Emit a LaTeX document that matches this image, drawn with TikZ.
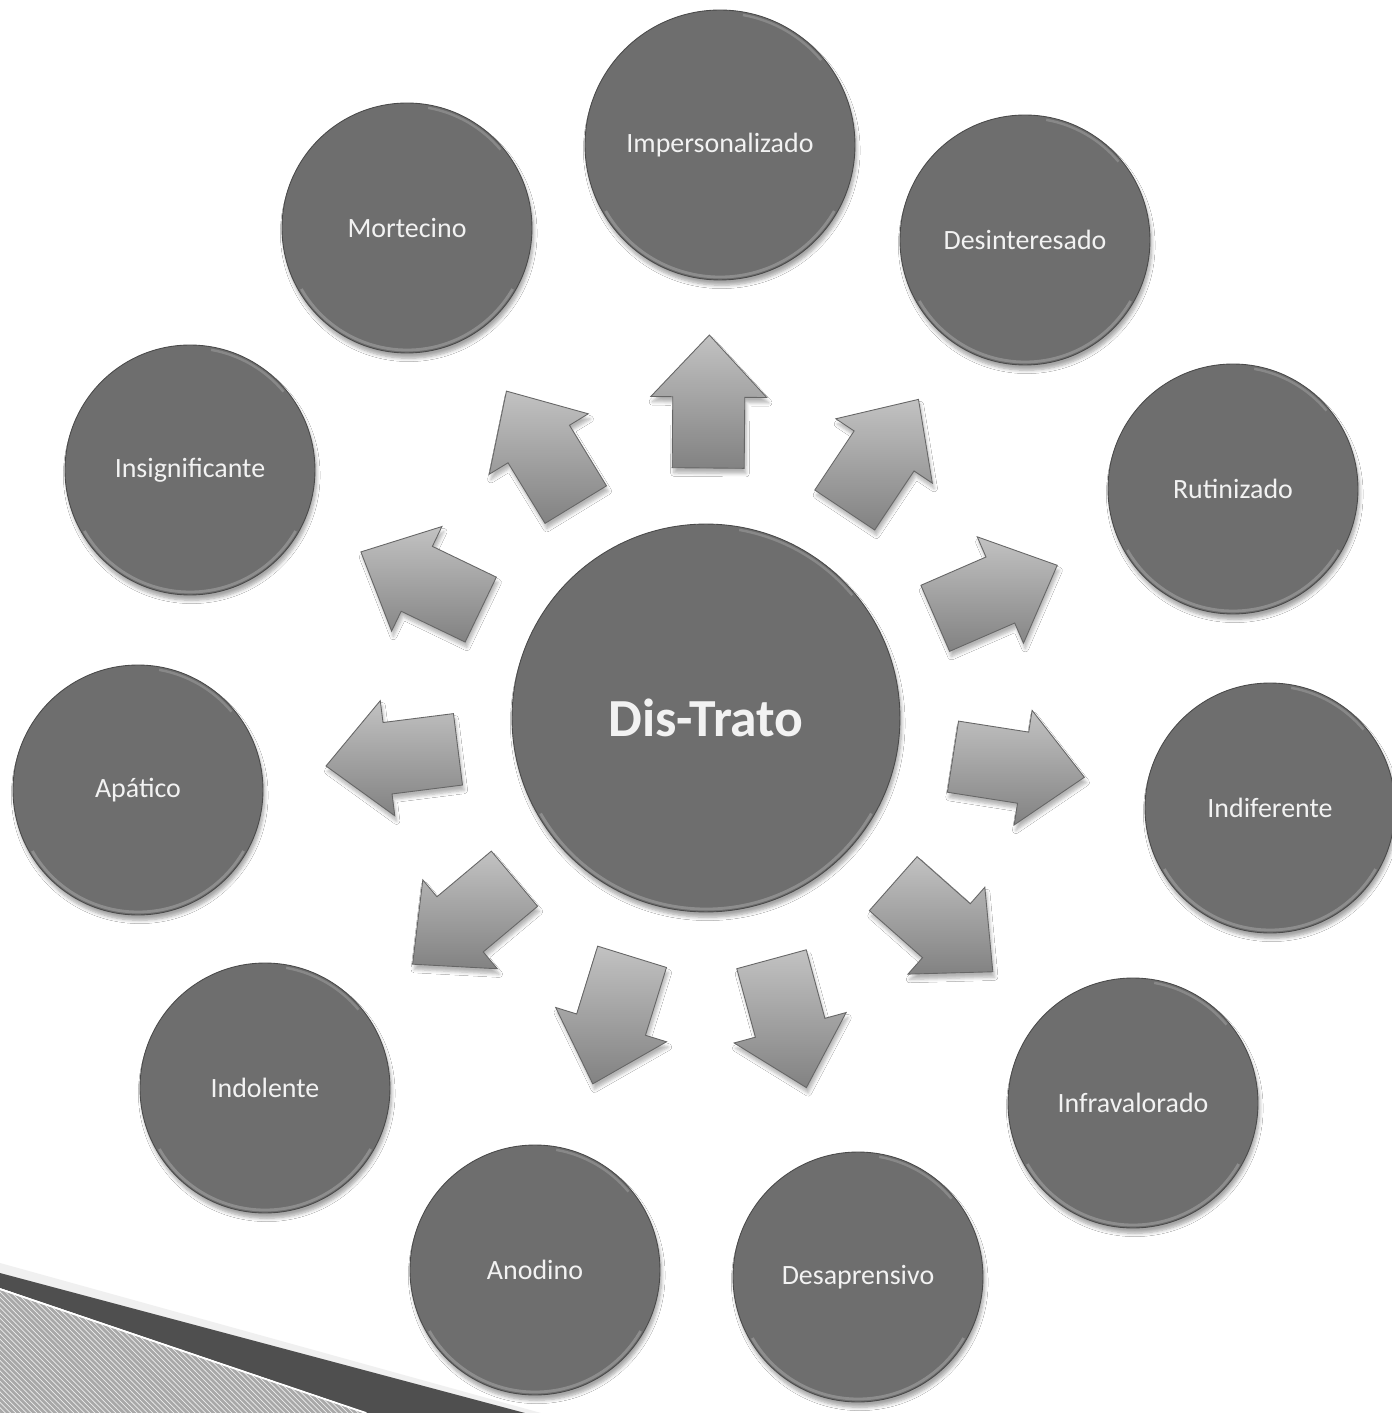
\documentclass[tikz,border=0pt]{standalone}
\usepackage{fontspec}
\setmainfont{Carlito}
\usetikzlibrary{calc,shadows,shadows.blur,patterns}
\definecolor{ballgray}{HTML}{6E6E6E}
\definecolor{ballrim}{HTML}{4A4A4A}
\definecolor{balltext}{HTML}{F2F2F2}
\definecolor{arrtop}{HTML}{C2C2C2}
\definecolor{arrbot}{HTML}{828282}
\definecolor{arrrim}{HTML}{666666}
\definecolor{bandgray}{HTML}{4F4F4F}
\definecolor{lowgray}{HTML}{A8A8A8}
\begin{document}
\begin{tikzpicture}[x=0.02cm,y=0.02cm,
  rimglow/.style={path picture={
    \draw[white, opacity=0.22, line width=1.6pt]
      ($(path picture bounding box.center)+(210:#1)$) arc[start angle=210, end angle=330, radius=#1];
    \draw[white, opacity=0.18, line width=1.4pt]
      ($(path picture bounding box.center)+(40:#1)$) arc[start angle=40, end angle=80, radius=#1];}},
  ball/.style={circle, fill=ballgray, draw=ballrim, line width=0.5pt,
    text=balltext, inner sep=0pt, minimum size=5cm, rimglow=122,
    font=\fontsize{15.9}{19}\selectfont,
    blur shadow={shadow xshift=1pt, shadow yshift=-3pt, shadow blur steps=6, shadow opacity=35}},
  hub/.style={ball, minimum size=7.76cm, rimglow=191, font=\fontsize{30.5}{36}\selectfont\bfseries},
  arrowshape/.style={top color=arrtop, bottom color=arrbot, draw=arrrim, line width=0.5pt,
    blur shadow={shadow xshift=1pt, shadow yshift=-3pt, shadow blur steps=5, shadow opacity=30}},
  band/.style={fill=bandgray, draw=none},
  lowfield/.style={fill=lowgray, draw=none}
]
\useasboundingbox (-706,-695) rectangle (686,718);
\fill[white] (-706,-695) rectangle (686,718);

% bottom-left slide decoration
\fill[black!6] (-706,-545) -- (-165,-695) -- (-181,-695) -- (-706,-555) -- cycle;
\path[band] (-706,-555) -- (-181,-695) -- (-338,-695) -- (-706,-570) -- cycle;
\path[lowfield] (-706,-572) -- (-342,-695) -- (-706,-695) -- cycle;
\path[pattern=north west lines, pattern color=black!7] (-706,-572) -- (-342,-695) -- (-706,-695) -- cycle;
\draw[white, line width=1pt] (-706,-571) -- (-340,-695);

% central circle
\node[hub] (ctr) at (0,0) {Dis-Trato};

% outer circles
\node[ball, minimum size=5.4cm, rimglow=132] (c1) at (14,573) {Impersonalizado};
\node[ball] (c2) at (319,478) {Desinteresado};
\node[ball] (c3) at (527,229) {Rutinizado};
\node[ball] (c4) at (564,-90) {Indiferente};
\node[ball] (c5) at (427,-385) {Infravalorado};
\node[ball] (c6) at (152,-559) {Desaprensivo};
\node[ball] (c7) at (-171,-552) {Anodino};
\node[ball] (c8) at (-441,-370) {Indolente};
\node[ball] (c9) at (-568,-72) {Apático};
\node[ball] (c10) at (-516,248) {Insignificante};
\node[ball] (c11) at (-299,490) {Mortecino};

% block arrows from the hub towards each circle
\foreach \a in {89.5,56.3,23.5,-8.9,-41.5,-74.8,-107.2,-140,-172.8,154.3,121.4}{
  \path[arrowshape]
    ($(ctr.center)+(\a:383)$) --
    ($(ctr.center)+(\a:321)+(\a+90:58)$) --
    ($(ctr.center)+(\a:321)+(\a+90:36)$) --
    ($(ctr.center)+(\a:250)+(\a+90:36)$) --
    ($(ctr.center)+(\a:250)+(\a-90:36)$) --
    ($(ctr.center)+(\a:321)+(\a-90:36)$) --
    ($(ctr.center)+(\a:321)+(\a-90:58)$) -- cycle;
}
\end{tikzpicture}
\end{document}
